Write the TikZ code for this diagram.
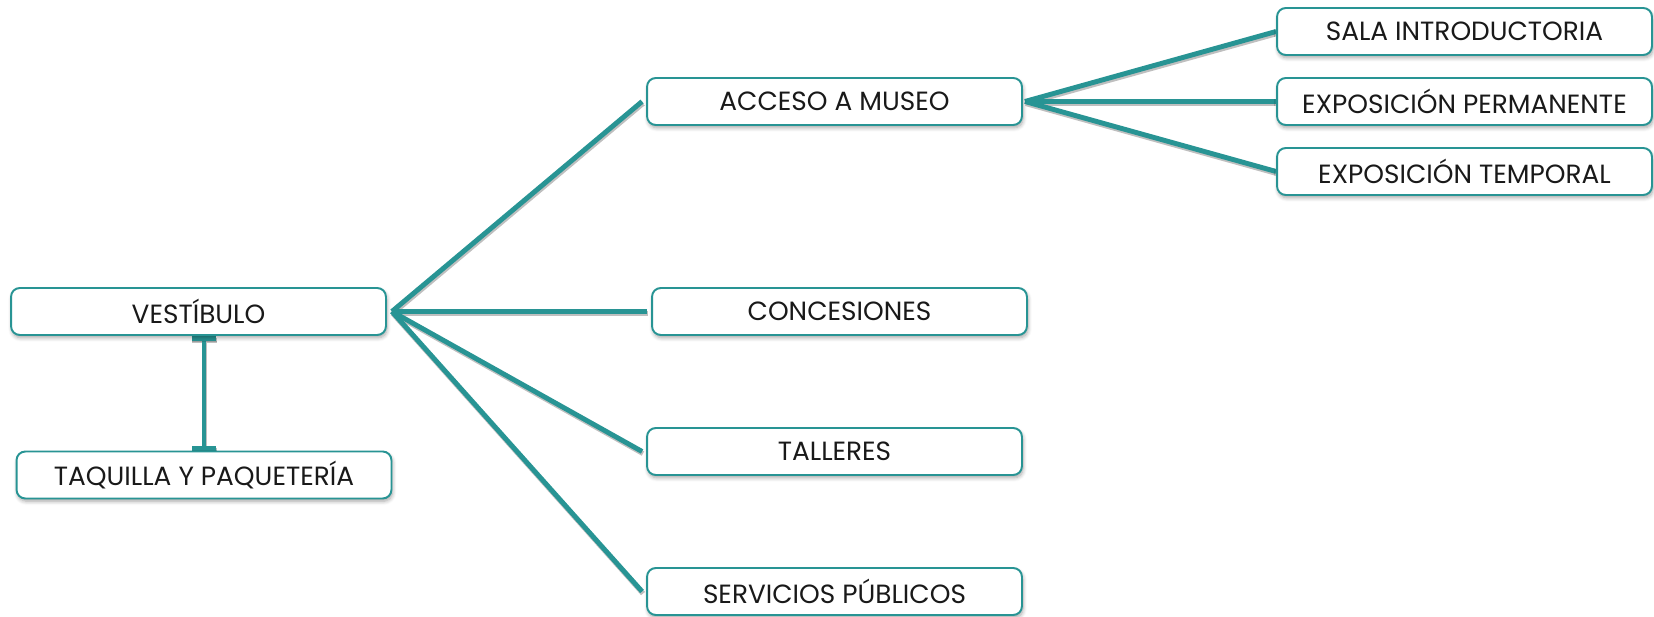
\documentclass[tikz,border=0pt]{standalone}
\usepackage{xcolor}
\usepackage{fontspec}
\setmainfont{Poppins}
\usepackage{tikz}
\usetikzlibrary{arrows.meta,positioning,shadows.blur,calc,backgrounds}
\definecolor{tealline}{RGB}{40,148,148}
\definecolor{textdark}{RGB}{25,25,25}

\begin{document}
\begin{tikzpicture}[x=0.02cm, y=-0.02cm,
  area/.style={draw=tealline, line width=1.1pt, rounded corners=5pt, fill=white,
    minimum width=7.5cm, minimum height=0.94cm, inner sep=0pt,
    font=\fontsize{15}{17}\selectfont, text=textdark,
    blur shadow={shadow xshift=0.6pt, shadow yshift=-1.6pt, shadow blur steps=6, shadow opacity=35}},
  link/.style={draw=tealline, line width=2.8pt,
    preaction={draw=black!25, line width=2.8pt, transform canvas={xshift=0.5pt, yshift=-1.2pt}}}]
  \useasboundingbox (0,0) rectangle (1654,617);
  % nodos
  \node[area] (vest) at (198.5,311.5) {VESTÍBULO};
  \node[area] (taq) at (204,475) {TAQUILLA Y PAQUETERÍA};
  \node[area] (acceso) at (834.5,101.5) {ACCESO A MUSEO};
  \node[area] (conces) at (839.5,311.5) {CONCESIONES};
  \node[area] (talleres) at (834.5,451.5) {TALLERES};
  \node[area] (servicios) at (834.5,591.5) {SERVICIOS PÚBLICOS};
  \node[area] (sala) at (1464.5,31.5) {SALA INTRODUCTORIA};
  \node[area] (perm) at (1464.5,101.5) {EXPOSICIÓN PERMANENTE};
  \node[area] (temp) at (1464.5,171.5) {EXPOSICIÓN TEMPORAL};
  \coordinate (hubv) at ([xshift=0.1cm]vest.east);
  \coordinate (huba) at ([xshift=0.04cm]acceso.east);
  % conexiones
  \begin{pgfonlayer}{background}
    \foreach \dest in {acceso,conces,talleres,servicios}
      \draw[link] (hubv) -- ([xshift=-0.08cm]\dest.west);
    \foreach \dest in {sala,perm,temp}
      \draw[link] (huba) -- (\dest.west);
    \draw[link, {Bar[width=5mm]}-{Bar[width=5mm]}] (vest.south -| taq.north) -- (taq.north);
  \end{pgfonlayer}
\end{tikzpicture}
\end{document}
